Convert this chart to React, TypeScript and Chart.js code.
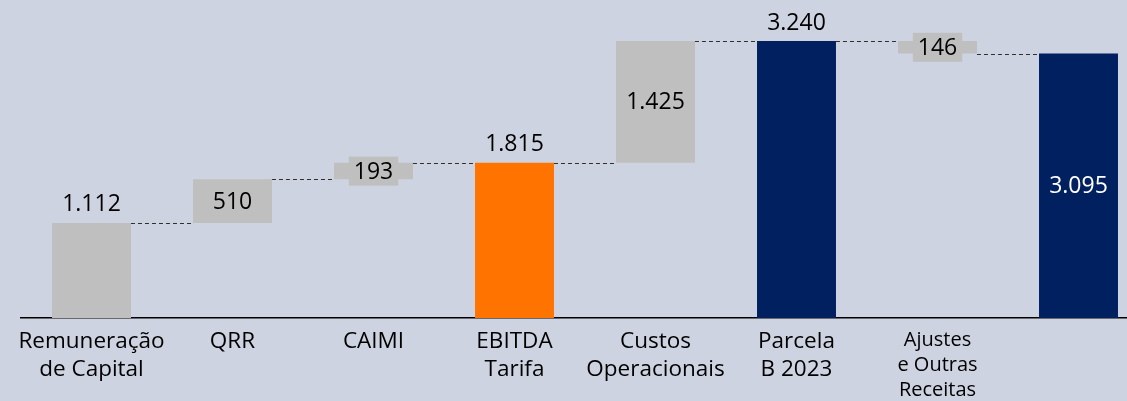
import React, { useEffect, useRef } from 'react';
import { Chart, registerables } from 'chart.js';

Chart.register(...registerables);

const FONT = '"Open Sans", "Noto Sans", sans-serif';
const BG = '#CDD3E0';

const categories: (string | string[])[] = [
  ['Remuneração', 'de Capital'],
  'QRR',
  'CAIMI',
  ['EBITDA', 'Tarifa'],
  ['Custos', 'Operacionais'],
  ['Parcela', 'B 2023'],
  ['Ajustes', 'e Outras', 'Receitas'],
  '',
];
const values = [1112, 510, 193, 1815, 1425, 3240, -146, 3095];
const kinds = ['total', 'delta', 'delta', 'total', 'delta', 'total', 'delta', 'total'];
const barColors = ['#BFBFBF', '#BFBFBF', '#BFBFBF', '#FF7300', '#BFBFBF', '#002060', '#BFBFBF', '#002060'];
const labelPlacement = ['above', 'center', 'center', 'above', 'center', 'above', 'center', 'center'];
const labelColors = ['#000000', '#000000', '#000000', '#000000', '#000000', '#000000', '#000000', '#FFFFFF'];

let running = 0;
const ranges: [number, number][] = values.map((v, i) => {
  if (kinds[i] === 'total') {
    running = v;
    return [0, v];
  }
  const s = running;
  running += v;
  return [s, running];
});

const fmt = (n: number) => String(n).replace(/\B(?=(\d{3})+(?!\d))/g, '.');

const waterfallPlugin = {
  id: 'waterfall',
  afterDatasetsDraw(chart: any) {
    const { ctx } = chart;
    const meta = chart.getDatasetMeta(0);
    const y = chart.scales.y;
    ctx.save();
    ctx.setLineDash([4, 3]);
    ctx.strokeStyle = '#303030';
    ctx.lineWidth = 1;
    for (let i = 0; i < ranges.length - 1; i++) {
      const a = meta.data[i];
      const b = meta.data[i + 1];
      const py = Math.round(y.getPixelForValue(ranges[i][1])) + 0.5;
      ctx.beginPath();
      ctx.moveTo(a.x + a.width / 2, py);
      ctx.lineTo(b.x - b.width / 2, py);
      ctx.stroke();
    }
    ctx.setLineDash([]);
    ctx.font = `23px ${FONT}`;
    ctx.textAlign = 'center';
    ctx.textBaseline = 'middle';
    meta.data.forEach((el: any, i: number) => {
      const txt = fmt(Math.abs(values[i]));
      const top = Math.min(el.y, el.base);
      const bottom = Math.max(el.y, el.base);
      const cy = labelPlacement[i] === 'above' ? top - 19 : (top + bottom) / 2;
      if (labelPlacement[i] === 'center' && barColors[i] === '#BFBFBF') {
        const w = ctx.measureText(txt).width + 10;
        ctx.fillStyle = '#BFBFBF';
        ctx.fillRect(el.x - w / 2, cy - 14.5, w, 29);
      }
      ctx.fillStyle = labelColors[i];
      ctx.fillText(txt, el.x, cy + 1);
    });
    ctx.restore();
  },
};

export default function App() {
  const ref = useRef<HTMLCanvasElement>(null);
  useEffect(() => {
    const chart = new Chart(ref.current as HTMLCanvasElement, {
      type: 'bar',
      data: {
        labels: categories as any,
        datasets: [
          {
            data: ranges as any,
            backgroundColor: barColors,
            borderWidth: 0,
            barPercentage: 1,
            categoryPercentage: 0.56,
          },
        ],
      },
      options: {
        animation: false,
        responsive: true,
        maintainAspectRatio: false,
        layout: { padding: { left: 21, right: 0, top: 0, bottom: 0 } },
        plugins: { legend: { display: false }, tooltip: { enabled: false } },
        scales: {
          x: {
            grid: { display: true, color: 'transparent', drawTicks: false },
            border: { display: true, color: '#000000', width: 1.5 },
            ticks: {
              autoSkip: false,
              maxRotation: 0,
              minRotation: 0,
              padding: 10,
              color: '#000000',
              font: (c: any) =>
                c.index === 6
                  ? { family: FONT, size: 20, lineHeight: 1.25 }
                  : { family: FONT, size: 22.5, lineHeight: 28 / 22.5 },
            },
            afterFit: (s: any) => {
              s.height = 83;
            },
          },
          y: { display: false, min: 0, max: 3720, grid: { display: false } },
        },
      },
      plugins: [waterfallPlugin],
    });
    return () => chart.destroy();
  }, []);
  return (
    <div
      style={{
        position: 'fixed',
        left: 0,
        top: 0,
        width: 1149,
        height: 401,
        background: BG,
        overflow: 'hidden',
      }}
    >
      <canvas ref={ref} />
    </div>
  );
}
